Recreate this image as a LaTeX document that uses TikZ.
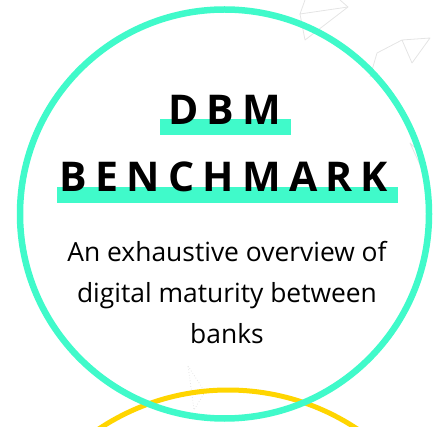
\documentclass[tikz,border=0pt]{standalone}
\usepackage{fontspec}
\setmainfont{Open Sans}
\newfontfamily\headfont[LetterSpace=20]{Open Sans}
\usetikzlibrary{positioning}

\definecolor{aqua}{RGB}{64,250,202}
\definecolor{sun}{RGB}{255,213,0}
\definecolor{plane}{RGB}{228,228,228}

\begin{document}
\begin{tikzpicture}[x=1pt,y=-1pt]
  \tikzset{title/.style = {anchor=base,inner sep=0pt,font=\headfont\bfseries\fontsize{41}{41}\selectfont}}
  \tikzset{bar/.style = {fill=aqua,inner sep=0pt}}
  \tikzset{blurb/.style = {align=center,inner sep=0pt,font=\fontsize{26.4}{41}\selectfont}}
  \tikzset{ring/.style = {line width=6.5pt,draw=aqua}}
  \tikzset{wing/.style = {draw=plane,line width=0.8pt,line join=round}}

  \useasboundingbox (0,0) rectangle (436,427);

  % paper planes in the back
  \draw[wing] (305,0) -- (300,14) -- (348,7) -- (340,0);
  \draw[wing] (300,14) -- (305,40) -- (348,7);
  \draw[wing] (370,77) -- (377,53) -- (402,40) -- (430,38) -- (412,63) -- (402,40);
  \draw[wing] (410,143) -- (423,155) -- (427,180) -- cycle;
  \draw[wing,dotted] (188,366) -- (205,392) -- (194,410) -- (190,380) -- cycle;

  % circles
  \draw[line width=5pt,draw=sun] (228,390) ++(0,233.6) circle[radius=233.6pt];
  \node[coordinate] (mid) at (224.5,214) {};
  \draw[ring] (mid) circle[radius=204.5pt];

  % title
  \node[bar,minimum width=131pt,minimum height=16pt] (dbmbar) at (225.5,127) {};
  \node[bar,minimum width=341pt,minimum height=16pt] (benchbar) at (227.5,195) {};
  \node[title] (dbm) at (224.5,125) {DBM};
  \node[title] (bench) at (224,192) {BENCHMARK};

  \node[blurb,anchor=north] (blurb) at (227,241)
    {An exhaustive overview of\\digital maturity between\\banks};

\end{tikzpicture}
\end{document}
